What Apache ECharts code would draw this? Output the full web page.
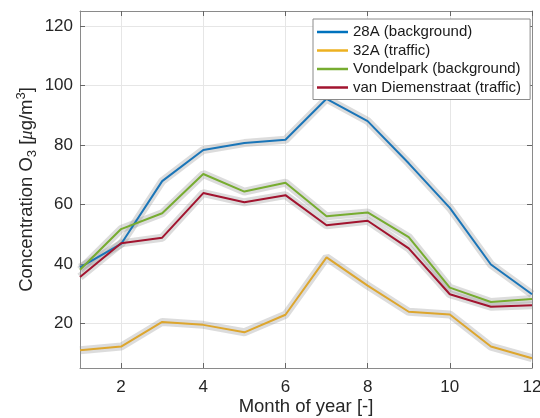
<!DOCTYPE html>
<html>
<head>
<meta charset="utf-8">
<script src="https://cdn.jsdelivr.net/npm/echarts@6/dist/echarts.min.js"></script>
<style>html,body{margin:0;padding:0;background:#fff}#c{width:540px;height:418px}</style>
</head>
<body>
<div id="c"></div>
<script>
const months = [1,2,3,4,5,6,7,8,9,10,11,12];
const s28A = [38.8, 46.7, 67.8, 78.3, 80.6, 81.7, 95.5, 88.0, 73.8, 58.8, 39.8, 29.8];
const s32A = [11.0, 12.2, 20.5, 19.5, 17.0, 22.9, 42.2, 32.7, 23.9, 23.0, 12.2, 8.3];
const sVondel = [38.0, 51.7, 57.0, 70.2, 64.3, 67.3, 56.0, 57.3, 49.0, 32.0, 27.2, 28.2];
const sDiemen = [35.6, 46.9, 48.8, 63.8, 60.7, 63.1, 53.0, 54.5, 45.2, 29.8, 25.6, 26.1];
const seriesNames = ['28A (background)', '32A (traffic)', 'Vondelpark (background)', 'van Diemenstraat (traffic)'];
const xTicks = [2,4,6,8,10,12];
const yTicks = [20,40,60,80,100,120];

const colors = ['#0072BD', '#EDB120', '#77AC30', '#A2142F'];
const lineColors = ['#1a75b8', '#DDA62E', '#77AC30', '#A2142F'];
const values = [s28A, s32A, sVondel, sDiemen];
const FONT = 'Liberation Sans, Arial, Helvetica, sans-serif';
const axisCol = '#262626';

const toPts = v => months.map((m, i) => [m, v[i]]);

const series = [];
values.forEach((v, k) => {
  series.push({
    type: 'line', data: toPts(v), showSymbol: false, silent: true,
    lineStyle: { width: 8, color: 'rgba(150,150,150,0.33)' }, z: 2,
    legendHoverLink: false, tooltip: { show: false }
  });
});
values.forEach((v, k) => {
  series.push({
    name: seriesNames[k], type: 'line', data: toPts(v), showSymbol: false,
    lineStyle: { width: 2, color: lineColors[k] }, itemStyle: { color: colors[k] }, z: 3
  });
});

const baseX = {
  type: 'value', min: 1, max: 12,
  axisLine: { show: true, lineStyle: { color: '#8a8a8a', width: 1 } },
  axisTick: { show: true, inside: true, length: 5, customValues: xTicks, lineStyle: { color: '#666' } },
  splitLine: { show: false }
};
const baseY = {
  type: 'value', min: 5, max: 125,
  axisLine: { show: true, lineStyle: { color: '#8a8a8a', width: 1 } },
  axisTick: { show: true, inside: true, length: 5, customValues: yTicks, lineStyle: { color: '#666' } },
  splitLine: { show: false }
};

const option = {
  animation: false,
  grid: { left: 80, right: 8, top: 11, bottom: 50, containLabel: false, outerBoundsMode: 'none' },
  legend: {
    data: seriesNames.map((n, k) => ({ name: n, itemStyle: { color: colors[k] } })),
    orient: 'vertical', left: 313, top: 19,
    backgroundColor: '#fff', borderColor: '#8a8a8a', borderWidth: 1,
    padding: [5, 9, 4, 4], itemGap: 2.5, itemWidth: 31, itemHeight: 2.5, icon: 'rect',
    textStyle: { fontFamily: FONT, fontSize: 15, color: '#1a1a1a', lineHeight: 16 }
  },
  xAxis: [
    Object.assign({}, baseX, {
      position: 'bottom',
      name: 'Month of year [-]', nameLocation: 'middle', nameGap: 29, nameMoveOverlap: false,
      nameTextStyle: { fontFamily: FONT, fontSize: 18.5, color: axisCol },
      axisLabel: { show: true, customValues: xTicks, margin: 11, fontFamily: FONT, fontSize: 17, color: axisCol },
      splitLine: { show: true, lineStyle: { color: '#e6e6e6', width: 1 } }
    }),
    Object.assign({}, baseX, { position: 'top', axisLabel: { show: false } })
  ],
  yAxis: [
    Object.assign({}, baseY, {
      position: 'left',
      name: '{t|Concentration O}{sub|3}{t| [}{mu|μ}{t|g/m}{sup|3}{t|]}',
      nameLocation: 'middle', nameGap: 41, nameMoveOverlap: false,
      nameTextStyle: {
        fontFamily: FONT, fontSize: 18.5, color: axisCol,
        rich: {
          t: { fontFamily: FONT, fontSize: 18.5, color: axisCol, lineHeight: 24 },
          sub: { fontFamily: FONT, fontSize: 13, color: axisCol, lineHeight: 10, verticalAlign: 'bottom' },
          sup: { fontFamily: FONT, fontSize: 13, color: axisCol, lineHeight: 12, verticalAlign: 'top' },
          mu: { fontFamily: 'Liberation Serif, DejaVu Serif, serif', fontStyle: 'italic', fontSize: 18.5, color: axisCol, lineHeight: 24 }
        }
      },
      axisLabel: { show: true, customValues: yTicks, margin: 7, fontFamily: FONT, fontSize: 17, color: axisCol },
      splitLine: { show: true, lineStyle: { color: '#e6e6e6', width: 1 } }
    }),
    Object.assign({}, baseY, { position: 'right', axisLabel: { show: false } })
  ],
  series: series
};

const chart = echarts.init(document.getElementById('c'), null, { renderer: 'canvas' });
chart.setOption(option);
</script>
</body>
</html>
